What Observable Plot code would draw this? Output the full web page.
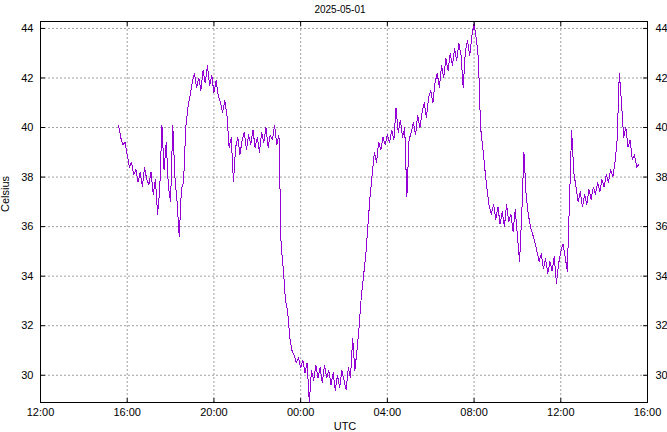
<!DOCTYPE html>
<html>
<head>
<meta charset="utf-8">
<script src="https://cdn.jsdelivr.net/npm/d3@7"></script>
<script src="https://cdn.jsdelivr.net/npm/@observablehq/plot@0.6"></script>
<style>
  html, body { margin: 0; padding: 0; background: #fff; }
  #chart { width: 667px; height: 432px; }
</style>
</head>
<body>
<div id="chart"></div>
<script>
// Temperature readings (°C), sampled every 6 minutes from 2025-04-30 15:36 UTC
const startTime = "2025-04-30T15:36:00Z";
const stepMinutes = 6;
const temps = [
  40.1, 39.6, 39.3, 39.4,
  38.9, 38.4, 38.6, 38.1, 38.3, 37.8, 38.2, 37.6, 38.4, 37.9,
  37.7, 38.2, 37.3, 37.9, 36.5, 37.5, 40.1, 38.3, 39.4, 37.6,
  37.0, 40.1, 38.0, 37.0, 35.6, 37.5, 37.8, 40.0, 40.8, 41.3,
  41.8, 42.2, 41.6, 42.0, 41.5, 42.3, 41.8, 42.5, 41.7, 42.1,
  41.4, 41.9, 41.3, 41.0, 40.6, 41.1, 40.5, 39.2, 39.6, 37.8,
  39.2, 39.6, 38.9, 39.5, 39.8, 39.1, 39.7, 39.3, 39.9, 39.2,
  39.6, 39.0, 39.8, 39.4, 40.0, 39.2, 39.7, 39.5, 40.1, 39.3,
  39.7, 35.2, 34.3, 33.0, 32.6, 31.5, 31.0, 30.8, 30.5, 30.7,
  30.3, 30.6, 30.1, 30.5, 28.9, 30.2, 29.8, 30.4, 29.9, 30.3,
  29.7, 30.4, 29.9, 30.2, 29.6, 30.1, 29.4, 30.0, 29.5, 30.2,
  29.8, 29.4, 30.3, 29.9, 31.5, 30.2, 31.0, 32.0, 33.2, 34.0,
  34.8, 36.0, 37.2, 38.1, 39.0, 38.6, 39.4, 39.1, 39.6, 39.3,
  39.7, 39.4, 39.9, 39.5, 40.8, 39.8, 40.3, 39.6, 40.0, 37.2,
  39.5, 39.8, 40.2, 39.7, 40.5, 40.0, 40.6, 41.0, 40.4, 41.2,
  41.5, 41.0, 41.8, 42.2, 41.6, 42.5, 42.0, 42.8, 42.3, 43.0,
  42.5, 43.2, 42.7, 43.4, 42.9, 41.6, 43.1, 43.5, 42.9, 43.7,
  44.2, 43.6, 42.8, 40.0, 39.2, 38.3, 37.5, 36.8, 36.5, 36.9,
  36.3, 36.8, 36.1, 36.6, 36.0, 36.9, 36.2, 36.5, 35.8, 36.7,
  35.6, 34.6, 36.5, 39.0, 37.3, 36.5, 36.0, 35.7, 35.4, 35.0,
  34.6, 34.9, 34.3, 34.7, 34.1, 34.6, 34.2, 34.8, 33.7, 34.5,
  35.0, 35.3, 34.8, 34.2, 37.0, 39.9, 38.2, 37.6, 37.0, 37.4,
  36.8, 37.3, 36.9, 37.5, 37.1, 37.6, 37.3, 37.8, 37.4, 37.9,
  37.6, 38.1, 37.8, 38.3, 38.0, 38.6, 39.5, 42.2, 41.0, 39.6,
  40.0, 39.2, 39.5, 38.7, 38.9, 38.4, 38.5
];
const xTickDates = [
  "2025-04-30T12:00:00Z", "2025-04-30T16:00:00Z", "2025-04-30T20:00:00Z",
  "2025-05-01T00:00:00Z", "2025-05-01T04:00:00Z", "2025-05-01T08:00:00Z",
  "2025-05-01T12:00:00Z", "2025-05-01T16:00:00Z"
];
const yTicks = [30, 32, 34, 36, 38, 40, 42, 44];
const xDomainDates = ["2025-04-30T12:00:00Z", "2025-05-01T16:00:00Z"];
const yDomain = [28.9, 44.28];
const titleText = "2025-05-01";
const yLabel = "Celsius";
const xLabel = "UTC";

const t0 = Date.parse(startTime);
const data = temps.map((v, i) => ({time: new Date(t0 + i * stepMinutes * 60000), temp: v}));
const xTicks = xTickDates.map(d => new Date(d));
const xDomain = xDomainDates.map(d => new Date(d));

const tickShape = {draw(ctx, l) { ctx.moveTo(0, 0); ctx.lineTo(0, -l); }};
const tickOpts = {length: 4, anchor: "start", shape: tickShape, stroke: "black", strokeWidth: 1};
const gridOpts = {stroke: "#a0a0a0", strokeOpacity: 1, strokeDasharray: "2,2"};

const chart = Plot.plot({
  width: 667,
  height: 432,
  marginLeft: 40,
  marginRight: 20,
  marginTop: 21,
  marginBottom: 30,
  style: {fontFamily: "'Liberation Sans', Arial, sans-serif", fontSize: "11px", background: "#fff", color: "#000"},
  x: {type: "utc", domain: xDomain},
  y: {domain: yDomain},
  marks: [
    Plot.gridX(xTicks, gridOpts),
    Plot.gridY(yTicks, gridOpts),
    Plot.line(data, {x: "time", y: "temp", stroke: "#9400d3", strokeWidth: 1, clip: true, shapeRendering: "crispEdges"}),
    Plot.frame({stroke: "black"}),
    Plot.axisY(yTicks, {anchor: "left", tickSize: 0, tickPadding: 7, label: null}),
    Plot.axisY(yTicks, {anchor: "right", tickSize: 0, tickPadding: 8, label: null}),
    Plot.axisX(xTicks, {anchor: "bottom", tickSize: 0, tickPadding: 6, tickFormat: d3.utcFormat("%H:%M"), label: null}),
    Plot.vector(yTicks, {y: d => d, frameAnchor: "left", rotate: 90, ...tickOpts}),
    Plot.vector(yTicks, {y: d => d, frameAnchor: "right", rotate: -90, ...tickOpts}),
    Plot.vector(xTicks, {x: d => d, frameAnchor: "bottom", rotate: 0, ...tickOpts}),
    Plot.vector(xTicks, {x: d => d, frameAnchor: "top", rotate: 180, ...tickOpts}),
    Plot.text([titleText], {text: d => d, frameAnchor: "top", dy: -16, dx: -4, fontSize: 10}),
    Plot.text([yLabel], {text: d => d, frameAnchor: "left", rotate: -90, dx: -35}),
    Plot.text([xLabel], {text: d => d, frameAnchor: "bottom", dy: 27, dx: 1})
  ]
});
document.getElementById("chart").appendChild(chart);
</script>
</body>
</html>
